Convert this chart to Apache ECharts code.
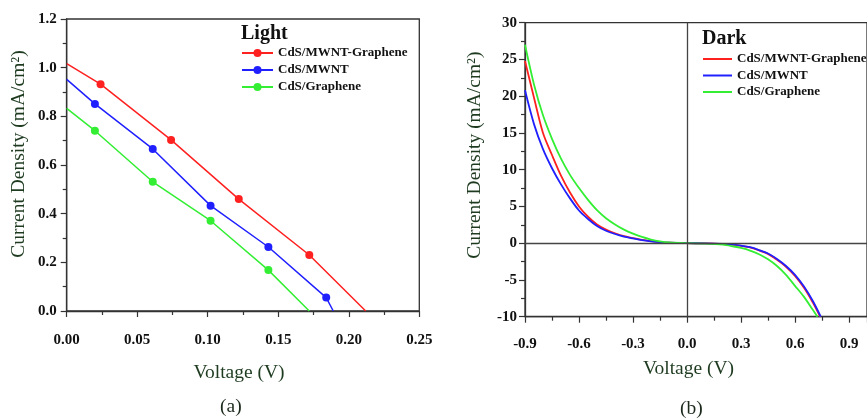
<!DOCTYPE html>
<html>
<head>
<meta charset="utf-8">
<script src="https://cdn.jsdelivr.net/npm/echarts@6/dist/echarts.min.js"></script>
<style>
html,body{margin:0;padding:0;background:#fff;}
#c{width:867px;height:419px;}
</style>
</head>
<body>
<div id="c"></div>
<script>
// ---- Data ----
const seriesNames = ['CdS/MWNT-Graphene', 'CdS/MWNT', 'CdS/Graphene'];

// (a) Light
const lightRedV   = [0, 0.024, 0.074, 0.122, 0.172, 0.212];
const lightRedJ   = [1.017, 0.932, 0.703, 0.460, 0.230, 0];
const lightBlueV  = [0, 0.020, 0.061, 0.102, 0.143, 0.184, 0.189];
const lightBlueJ  = [0.952, 0.851, 0.666, 0.433, 0.263, 0.055, 0];
const lightGreenV = [0, 0.020, 0.061, 0.102, 0.143, 0.172];
const lightGreenJ = [0.833, 0.741, 0.531, 0.371, 0.168, 0];

// (b) Dark
const darkRedV   = [-0.9,-0.85,-0.8,-0.75,-0.7,-0.65,-0.6,-0.55,-0.5,-0.45,-0.4,-0.35,-0.3,-0.25,-0.2,-0.15,-0.1,0,0.1,0.2,0.26,0.3,0.35,0.4,0.45,0.5,0.55,0.6,0.65,0.7,0.74];
const darkRedJ   = [24.8,19.8,15.0,12.0,9.2,6.9,5.0,3.6,2.55,1.85,1.35,0.95,0.7,0.45,0.28,0.15,0.06,0,-0.03,-0.12,-0.22,-0.36,-0.58,-0.98,-1.45,-2.25,-3.2,-4.45,-6.05,-8.1,-10];
const darkBlueV  = [-0.9,-0.85,-0.8,-0.75,-0.7,-0.65,-0.6,-0.55,-0.5,-0.45,-0.4,-0.35,-0.3,-0.25,-0.2,-0.15,-0.1,0,0.1,0.2,0.26,0.3,0.35,0.4,0.45,0.5,0.55,0.6,0.65,0.7,0.743];
const darkBlueJ  = [20.8,16.2,12.8,10.2,8.0,6.1,4.45,3.3,2.35,1.7,1.25,0.9,0.65,0.42,0.26,0.14,0.06,0,-0.02,-0.1,-0.2,-0.33,-0.55,-0.93,-1.4,-2.15,-3.1,-4.3,-5.9,-7.9,-10];
const darkGreenV = [-0.9,-0.85,-0.8,-0.75,-0.7,-0.65,-0.6,-0.55,-0.5,-0.45,-0.4,-0.35,-0.3,-0.25,-0.2,-0.15,-0.1,0,0.1,0.2,0.26,0.3,0.35,0.4,0.45,0.5,0.55,0.6,0.65,0.7,0.725];
const darkGreenJ = [27.0,21.6,17.4,14.2,11.5,9.3,7.5,5.9,4.5,3.4,2.55,1.85,1.3,0.85,0.5,0.25,0.1,0,-0.05,-0.2,-0.45,-0.65,-1.0,-1.5,-2.2,-3.1,-4.3,-5.8,-7.3,-9.1,-10];

// Axis tick settings
const lightXTicks = {min: 0, max: 0.25, interval: 0.05};
const lightYTicks = {min: 0, max: 1.2, interval: 0.2};
const darkXTicks  = {min: -0.9, max: 1.0, interval: 0.3};
const darkYTicks  = {min: -10, max: 30, interval: 5};

// ---- Styles ----
const colors = ['#ff2020', '#2020ff', '#33ee33'];
const serif = "'Liberation Serif', 'DejaVu Serif', serif";
const nameColor = '#1e3b20';
const axisColor = '#333';

function pairs(v, j) { return v.map((x, i) => [x, j[i]]); }
function fmt(d) { return function (val) { if (Math.abs(val) < 1e-9) val = 0; return val.toFixed(d); }; }

function axisBase(extra) {
  return Object.assign({
    type: 'value',
    axisLine: {show: true, onZero: false, lineStyle: {color: axisColor, width: 1.3}},
    axisTick: {show: true, inside: false, length: 6, lineStyle: {color: axisColor, width: 1.2}},
    minorTick: {show: true, splitNumber: 2, length: 4, lineStyle: {color: axisColor, width: 1.2}},
    splitLine: {show: false},
    nameLocation: 'middle'
  }, extra);
}

const lightSeries = [[lightRedV, lightRedJ], [lightBlueV, lightBlueJ], [lightGreenV, lightGreenJ]].map((d, k) => ({
  name: seriesNames[k],
  type: 'line',
  xAxisIndex: 0, yAxisIndex: 0,
  data: pairs(d[0], d[1]),
  symbol: 'circle',
  symbolSize: function (val, p) { return (p.dataIndex === 0 || p.dataIndex === d[0].length - 1) ? 0 : 8; },
  showAllSymbol: true,
  lineStyle: {color: colors[k], width: 1.5},
  itemStyle: {color: colors[k]},
  animation: false
}));

const darkSeries = [[darkRedV, darkRedJ], [darkBlueV, darkBlueJ], [darkGreenV, darkGreenJ]].map((d, k) => ({
  name: seriesNames[k],
  type: 'line',
  xAxisIndex: 1, yAxisIndex: 1,
  data: pairs(d[0], d[1]),
  symbol: 'none',
  smooth: 0.3,
  lineStyle: {color: colors[k], width: 1.8},
  itemStyle: {color: colors[k]},
  animation: false
}));

darkSeries[0].markLine = {
  silent: true,
  symbol: ['none', 'none'],
  label: {show: false},
  lineStyle: {color: '#444', width: 1.3, type: 'solid'},
  data: [{xAxis: 0}, {yAxis: 0}],
  animation: false
};

const labelStyle = {fontFamily: serif, fontWeight: 'bold', fontSize: 15, color: '#111'};
const nameStyle = {fontFamily: serif, fontSize: 19.5, color: nameColor};

const option = {
  animation: false,
  backgroundColor: '#fff',
  grid: [
    {left: 66.7, top: 19, width: 352.6, height: 292, show: true, borderColor: axisColor, borderWidth: 1.3},
    {left: 525, top: 22.7, width: 351.9, height: 294, show: true, borderColor: axisColor, borderWidth: 1.3}
  ],
  xAxis: [
    axisBase(Object.assign({gridIndex: 0, name: 'Voltage (V)', nameGap: 52,
      axisLabel: Object.assign({margin: 22, formatter: fmt(2)}, labelStyle),
      nameTextStyle: Object.assign({padding: [0, 8, 0, 0]}, nameStyle)
    }, lightXTicks)),
    axisBase(Object.assign({gridIndex: 1, name: 'Voltage (V)', nameGap: 42,
      axisLabel: Object.assign({margin: 20, formatter: fmt(1), showMaxLabel: false}, labelStyle),
      nameTextStyle: Object.assign({padding: [0, 15, 0, 0]}, nameStyle)
    }, darkXTicks))
  ],
  yAxis: [
    axisBase(Object.assign({gridIndex: 0, name: 'Current Density (mA/cm²)', nameGap: 38,
      axisLabel: Object.assign({margin: 10, formatter: fmt(1)}, labelStyle),
      nameTextStyle: Object.assign({padding: [0, 0, 0, 22]}, nameStyle)
    }, lightYTicks)),
    axisBase(Object.assign({gridIndex: 1, name: 'Current Density (mA/cm²)', nameGap: 40,
      axisLabel: Object.assign({margin: 8, formatter: fmt(0)}, labelStyle),
      nameTextStyle: Object.assign({padding: [0, 0, 0, 29]}, nameStyle)
    }, darkYTicks))
  ],
  title: [
    {text: 'Light', left: 241, top: 23.5, padding: 0,
     textStyle: {fontFamily: serif, fontWeight: 'bold', fontSize: 20, color: '#111'}},
    {text: 'Dark', left: 702, top: 28.5, padding: 0,
     textStyle: {fontFamily: serif, fontWeight: 'bold', fontSize: 20, color: '#111'}}
  ],
  legend: [
    {orient: 'vertical', left: 241, top: 46.5, padding: 0, itemGap: 4, itemWidth: 31, itemHeight: 10,
     data: seriesNames,
     textStyle: {fontFamily: serif, fontWeight: 'bold', fontSize: 13, color: '#111', lineHeight: 13},
     selectedMode: false},
    {orient: 'vertical', left: 703, top: 52.5, padding: 0, itemGap: 3.5, itemWidth: 29, itemHeight: 2,
     data: seriesNames.map(n => ({name: n, icon: 'rect'})),
     textStyle: {fontFamily: serif, fontWeight: 'bold', fontSize: 13, color: '#111', lineHeight: 13},
     selectedMode: false}
  ],
  graphic: [
    {type: 'text', left: 220, top: 397, style: {text: '(a)', font: "19.5px 'Liberation Serif', serif", fill: '#1c2a1c'}},
    {type: 'text', left: 680, top: 399, style: {text: '(b)', font: "19.5px 'Liberation Serif', serif", fill: '#1c2a1c'}}
  ],
  series: lightSeries.concat(darkSeries)
};

const chart = echarts.init(document.getElementById('c'), null, {renderer: 'canvas'});
chart.setOption(option);
</script>
</body>
</html>
